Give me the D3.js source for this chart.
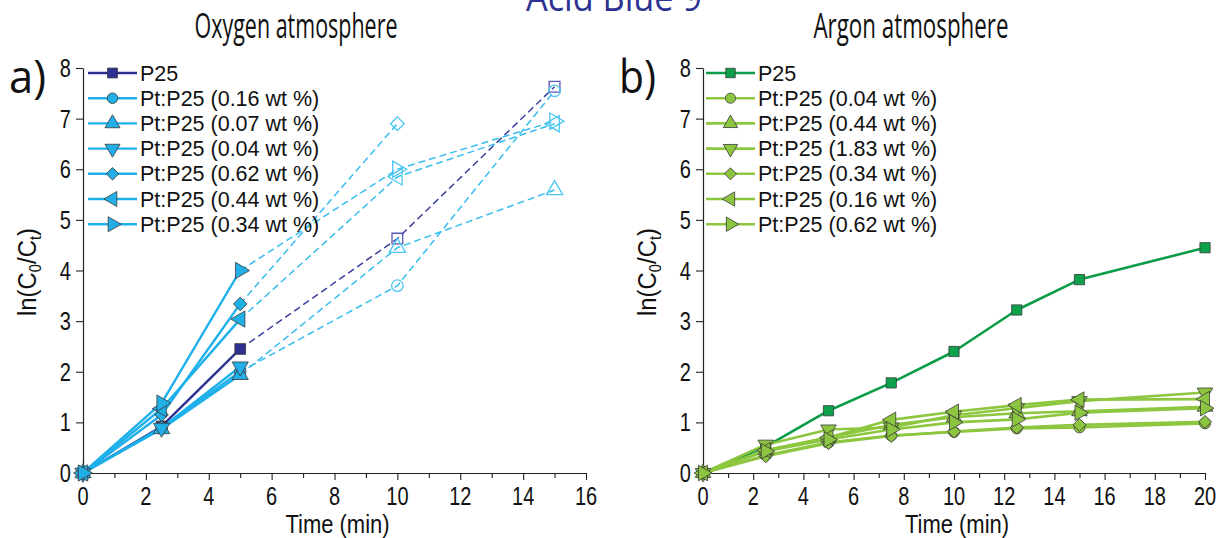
<!DOCTYPE html>
<html>
<head>
<meta charset="utf-8">
<script src="https://cdn.jsdelivr.net/npm/d3@7"></script>
<style>
  html, body { margin: 0; padding: 0; background: #fff; }
  svg { display: block; }
</style>
</head>
<body>
<svg id="chart" width="1220" height="538"></svg>
<script>
// ---------------- DATA ----------------
const figTitle = "Acid Blue 9";
const panelTitles = ["Oxygen atmosphere", "Argon atmosphere"];
const panelLetters = ["a)", "b)"];

// Oxygen atmosphere (panel a)
const oxTimes = [0, 2.5, 5, 10, 15];
const oxLabels = ["P25", "Pt:P25 (0.16 wt %)", "Pt:P25 (0.07 wt %)", "Pt:P25 (0.04 wt %)",
                  "Pt:P25 (0.62 wt %)", "Pt:P25 (0.44 wt %)", "Pt:P25 (0.34 wt %)"];
const oxP25   = [0, 0.92, 2.45, 4.63, 7.63];
const oxPt016 = [0, 0.90, 2.00, 3.70, 7.55];
const oxPt007 = [0, 0.87, 1.94, 4.45, 5.59];
const oxPt004 = [0, 0.89, 2.10, null, null];
const oxPt062 = [0, 1.15, 3.34, 6.90, null];
const oxPt044 = [0, 1.27, 3.04, 5.85, 6.90];
const oxPt034 = [0, 1.38, 4.00, 6.00, 6.95];

// Argon atmosphere (panel b)
const arTimes = [0, 2.5, 5, 7.5, 10, 12.5, 15, 20];
const arLabels = ["P25", "Pt:P25 (0.04 wt %)", "Pt:P25 (0.44 wt %)", "Pt:P25 (1.83 wt %)",
                  "Pt:P25 (0.34 wt %)", "Pt:P25 (0.16 wt %)", "Pt:P25 (0.62 wt %)"];
const arP25   = [0, 0.52, 1.23, 1.78, 2.40, 3.22, 3.82, 4.45];
const arPt004 = [0, 0.35, 0.60, 0.74, 0.81, 0.88, 0.90, 0.98];
const arPt044 = [0, 0.45, 0.70, 0.95, 1.10, 1.18, 1.22, 1.31];
const arPt183 = [0, 0.56, 0.86, 0.90, 1.14, 1.28, 1.42, 1.59];
const arPt034 = [0, 0.33, 0.59, 0.73, 0.82, 0.90, 0.95, 1.01];
const arPt016 = [0, 0.45, 0.70, 1.05, 1.21, 1.34, 1.45, 1.46];
const arPt062 = [0, 0.43, 0.66, 0.86, 1.00, 1.06, 1.19, 1.28];

const oxXTicks = [0, 2, 4, 6, 8, 10, 12, 14, 16];
const arXTicks = [0, 2, 4, 6, 8, 10, 12, 14, 16, 18, 20];
const yTicks = [0, 1, 2, 3, 4, 5, 6, 7, 8];
const xTitle = "Time (min)";

const symbolNames = ["square", "circle", "up", "down", "diamond", "left", "right"];

// ---------------- DRAW ----------------
const svg = d3.select("#chart");
const SANS = "'Liberation Sans', Arial, sans-serif";
const HUM = "'Open Sans', 'Noto Sans', sans-serif";

function txt(g, s, x, y, opt) {
  const t = g.append("text")
    .attr("transform", `translate(${x},${y}) scale(${opt.sx || 1},1)`)
    .attr("font-family", opt.family || SANS)
    .attr("font-size", opt.size)
    .attr("fill", opt.fill || "#111")
    .attr("text-anchor", opt.anchor || "start")
    .text(s);
  if (opt.len) t.attr("textLength", opt.len).attr("lengthAdjust", "spacingAndGlyphs");
  return t;
}

function symbolPath(name, size) {
  let type = d3.symbolTriangle, rot = 0;
  if (name === "square") type = d3.symbolSquare;
  else if (name === "circle") type = d3.symbolCircle;
  else if (name === "diamond") { type = d3.symbolSquare; rot = 45; }
  else if (name === "down") rot = 180;
  else if (name === "left") rot = -90;
  else if (name === "right") rot = 90;
  return { d: d3.symbol().type(type).size(size)(), rot };
}

function marker(g, name, x, y, opt) {
  let size = opt.size;
  if (name === "diamond") size = opt.size * 0.8;
  if (name === "circle") size = opt.size * 0.9;
  const s = symbolPath(name, size);
  g.append("path")
    .attr("d", s.d)
    .attr("transform", `translate(${x},${y}) rotate(${s.rot})`)
    .attr("fill", opt.fill)
    .attr("stroke", opt.stroke)
    .attr("stroke-width", opt.sw);
}

function panel(cfg) {
  const g = svg.append("g");
  const x = d3.scaleLinear().domain(cfg.xDomain).range(cfg.xRange);
  const y = d3.scaleLinear().domain([0, 8]).range([473, 68]);

  // axes
  const xAxis = d3.axisBottom(x).tickValues(d3.range(cfg.xDomain[0], cfg.xDomain[1] + 1, 1))
    .tickSize(6).tickSizeOuter(0).tickFormat("");
  const gx = g.append("g").attr("transform", `translate(0,${y(0)})`).call(xAxis);
  gx.selectAll(".tick line").attr("y2", d => (d % 2 === 0 ? 7 : 5)).attr("stroke", "#222").attr("stroke-width", 1.1);
  gx.select(".domain").attr("stroke", "#222").attr("stroke-width", 1.2);
  const yAxis = d3.axisLeft(y).tickValues(yTicks).tickSize(7).tickSizeOuter(0).tickFormat("");
  const gy = g.append("g").attr("transform", `translate(${x(0)},0)`).call(yAxis);
  gy.selectAll(".tick line").attr("stroke", "#222").attr("stroke-width", 1.1);
  gy.select(".domain").attr("stroke", "#222").attr("stroke-width", 1.2);

  // tick labels
  cfg.xTicks.forEach(v => txt(g, String(v), x(v), 505, { size: 25, sx: 0.8, anchor: "middle" }));
  yTicks.forEach(v => txt(g, String(v), x(0) - 12, y(v) + 9, { size: 25, sx: 0.8, anchor: "end" }));

  // axis titles
  txt(g, xTitle, (cfg.xRange[0] + cfg.xRange[1]) / 2 + 3, 533, { size: 25, sx: 0.88, anchor: "middle" });
  const yl = g.append("text")
    .attr("transform", `translate(${cfg.yLabelX},272) rotate(-90) scale(0.92,1)`)
    .attr("font-family", SANS).attr("font-size", 26).attr("fill", "#111")
    .attr("text-anchor", "middle");
  yl.append("tspan").text("ln(C");
  yl.append("tspan").attr("font-size", 16).attr("dy", 5).text("0");
  yl.append("tspan").attr("dy", -5).text("/C");
  yl.append("tspan").attr("font-size", 16).attr("dy", 5).text("t");
  yl.append("tspan").attr("dy", -5).text(")");

  // titles
  txt(g, cfg.title, cfg.titleX, 38, { size: 35, family: HUM, anchor: "middle", len: cfg.titleLen });
  txt(g, cfg.letter, cfg.letterX, 93, { size: 46, family: HUM, len: 37 });

  const line = d3.line().defined(d => d[1] !== null).x(d => x(d[0])).y(d => y(d[1]));

  // lines
  cfg.series.forEach((s, i) => {
    const pts = cfg.times.map((t, k) => [t, s.values[k]]);
    const solidPts = pts.slice(0, cfg.solidUntil + 1).filter(p => p[1] !== null);
    g.append("path").attr("d", line(solidPts)).attr("fill", "none")
      .attr("stroke", s.color).attr("stroke-width", cfg.lineW).attr("stroke-linejoin", "round");
    if (cfg.solidUntil < cfg.times.length - 1) {
      const dashPts = pts.slice(cfg.solidUntil).filter(p => p[1] !== null);
      if (dashPts.length > 1) {
        g.append("path").attr("d", line(dashPts)).attr("fill", "none")
          .attr("stroke", s.dashColor).attr("stroke-width", 1.5)
          .attr("stroke-dasharray", "7,4");
      }
    }
  });
  // markers
  cfg.series.forEach((s, i) => {
    cfg.times.forEach((t, k) => {
      const v = s.values[k];
      if (v === null) return;
      if (k <= cfg.solidUntil) {
        marker(g, s.sym, x(t), y(v), { size: cfg.mSize, fill: s.mfill, stroke: "#3a3a3a", sw: 0.8 });
      } else {
        marker(g, s.sym, x(t), y(v), { size: cfg.mSize, fill: "none", stroke: s.hollow, sw: 1.3 });
      }
    });
  });

  // legend
  cfg.series.forEach((s, i) => {
    const ly = 73 + i * 25.2;
    g.append("line").attr("x1", cfg.legX).attr("x2", cfg.legX + 49).attr("y1", ly).attr("y2", ly)
      .attr("stroke", s.color).attr("stroke-width", cfg.lineW);
    marker(g, s.sym, cfg.legX + 24.5, ly, { size: cfg.mSize * 0.85, fill: s.mfill, stroke: "#3a3a3a", sw: 0.8 });
    txt(g, cfg.labels[i], cfg.legX + 52, ly + 7.5, { size: 21.5, sx: 1.0 });
  });
}

const OX_DARK = "#2e3192", OX_LIGHT = "#1eb0ea";
const oxValues = [oxP25, oxPt016, oxPt007, oxPt004, oxPt062, oxPt044, oxPt034];
panel({
  xDomain: [0, 16], xRange: [83, 586], xTicks: oxXTicks,
  times: oxTimes, solidUntil: 2, labels: oxLabels,
  title: panelTitles[0], titleX: 296, titleLen: 203, letter: panelLetters[0], letterX: 9,
  yLabelX: 36, legX: 88, lineW: 2.4, mSize: 115,
  series: oxValues.map((v, i) => ({
    values: v, sym: symbolNames[i],
    color: i === 0 ? OX_DARK : OX_LIGHT,
    dashColor: i === 0 ? "#3b3fa0" : "#38bdf0",
    mfill: i === 0 ? OX_DARK : "#22aee6",
    hollow: i === 0 ? "#5558b0" : "#4cc6f2"
  }))
});

const AR_DARK = "#0b9c48", AR_LIGHT = "#8dc63f";
const arValues = [arP25, arPt004, arPt044, arPt183, arPt034, arPt016, arPt062];
panel({
  xDomain: [0, 20], xRange: [703, 1205], xTicks: arXTicks,
  times: arTimes, solidUntil: arTimes.length - 1, labels: arLabels,
  title: panelTitles[1], titleX: 911, titleLen: 195, letter: panelLetters[1], letterX: 619,
  yLabelX: 656, legX: 706, lineW: 2.6, mSize: 105,
  series: arValues.map((v, i) => ({
    values: v, sym: symbolNames[i],
    color: i === 0 ? AR_DARK : AR_LIGHT,
    dashColor: AR_LIGHT,
    mfill: i === 0 ? "#0ea14b" : "#8cc540",
    hollow: AR_LIGHT
  }))
});

// figure title (cut at top, as in the original)
txt(svg, figTitle, 614, 11, { size: 38, family: HUM, anchor: "middle", fill: "#2e3192", len: 176 });
</script>
</body>
</html>
